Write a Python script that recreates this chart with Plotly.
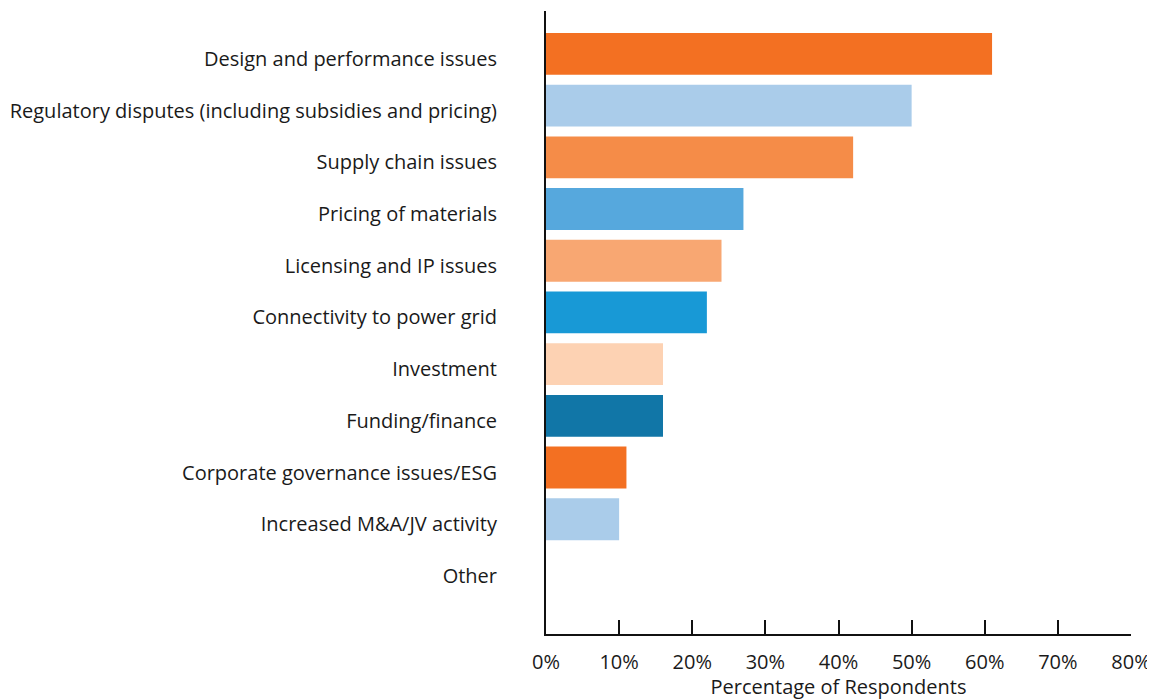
import plotly.graph_objects as go

categories = [
    "Design and performance issues",
    "Regulatory disputes (including subsidies and pricing)",
    "Supply chain issues",
    "Pricing of materials",
    "Licensing and IP issues",
    "Connectivity to power grid",
    "Investment",
    "Funding/finance",
    "Corporate governance issues/ESG",
    "Increased M&A/JV activity",
    "Other",
]
values = [61, 50, 42, 27, 24, 22, 16, 16, 11, 10, 0]
colors = ["#F37022", "#AACCEA", "#F58C48", "#56A8DD", "#F8A772", "#1899D6",
          "#FDD2B3", "#1176A7", "#F37022", "#AACCEA", "#AACCEA"]
x_ticks = [0, 10, 20, 30, 40, 50, 60, 70, 80]
x_tick_labels = [f"{t}%" for t in x_ticks]

fig = go.Figure(go.Bar(
    x=values, y=categories, orientation="h",
    marker=dict(color=colors, line=dict(width=0)),
    hoverinfo="x+y",
))

font_family = "Open Sans, Lato, sans-serif"
fs = 20
fig.update_layout(
    width=1147, height=692,
    margin=dict(l=538, r=24, t=3, b=66, autoexpand=False),
    paper_bgcolor="white", plot_bgcolor="white",
    bargap=0.19,
    showlegend=False,
    font=dict(family=font_family, size=fs, color="#1a1a1a"),
    xaxis=dict(
        range=[0, 80], tickvals=x_ticks, ticktext=x_tick_labels,
        showgrid=False, zeroline=False,
        showline=True, linecolor="#111", linewidth=2,
        ticks="inside", ticklen=14, tickwidth=2, tickcolor="#111",
        tickfont=dict(size=fs), ticklabelstandoff=9,
        title=dict(text="Percentage of Respondents", font=dict(size=fs), standoff=7),
        automargin=False,
        fixedrange=True,
    ),
    yaxis=dict(
        categoryorder="array", categoryarray=categories,
        range=[11.22, -0.83],
        showgrid=False, zeroline=False,
        showline=True, linecolor="#111", linewidth=2,
        ticks="", ticklabelstandoff=43, ticklabelshift=-5,
        tickfont=dict(size=fs),
        automargin=False,
        fixedrange=True,
    ),
)

fig.write_html("out.html")
